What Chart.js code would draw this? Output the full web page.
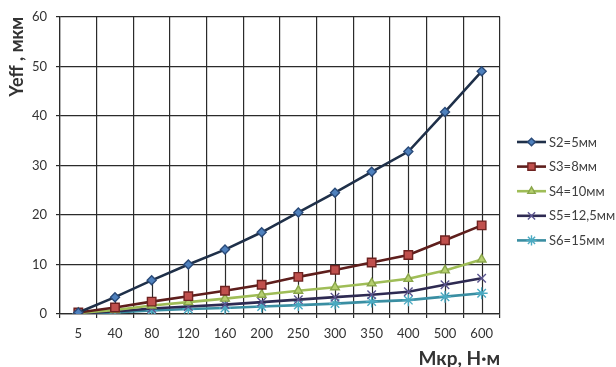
<!DOCTYPE html>
<html>
<head>
<meta charset="utf-8">
<script src="https://cdn.jsdelivr.net/npm/chart.js@4/dist/chart.umd.min.js"></script>
<style>
  html, body { margin: 0; padding: 0; background: #fff; }
  #wrap { width: 616px; height: 367px; position: relative; }
</style>
</head>
<body>
<div id="wrap"><canvas id="c"></canvas></div>
<script>
// Torque values (N·m) along the x axis
const torques = ['5', '40', '80', '120', '160', '200', '250', '300', '350', '400', '500', '600'];

// Yeff (µm) for each plate thickness
const s2 = [0.3, 3.4, 6.8, 10.0, 13.0, 16.5, 20.5, 24.5, 28.7, 32.8, 40.8, 49.0];
const s3 = [0.3, 1.3, 2.5, 3.6, 4.7, 5.9, 7.5, 8.9, 10.4, 11.9, 14.9, 17.9];
const s4 = [0.2, 0.8, 1.7, 2.4, 3.1, 3.9, 4.7, 5.4, 6.2, 7.1, 8.8, 11.0];
const s5 = [0.1, 0.5, 1.1, 1.5, 1.9, 2.4, 2.9, 3.4, 3.9, 4.5, 5.9, 7.2];
const s6 = [0.0, 0.3, 0.7, 1.0, 1.2, 1.5, 1.8, 2.1, 2.5, 2.8, 3.5, 4.2];

const seriesNames = ['S2=5мм', 'S3=8мм', 'S4=10мм', 'S5=12,5мм', 'S6=15мм'];

// y-axis ticks
const yMin = 0, yMax = 60, yStep = 10;

const FONT = 'Lato, "Noto Sans", sans-serif';

const styles = [
  { line: '#1f3049', fill: '#4f81bd', edge: '#2a4a78', shape: 'rectRot', r: 4.5 },
  { line: '#5e1e1c', fill: '#c0504d', edge: '#6e2220', shape: 'rect', r: 6 },
  { line: '#9fbd57', fill: '#b5cf6f', edge: '#8aa64a', shape: 'triangle', r: 5 },
  { line: '#2e2a52', fill: '#8a84b0', edge: '#5c5690', shape: 'crossRot', r: 6 },
  { line: '#3a8ea2', fill: '#6cc3d8', edge: '#4aaac2', shape: 'star', r: 6 }
];

const values = [s2, s3, s4, s5, s6];

const datasets = values.map((v, i) => ({
  label: seriesNames[i],
  data: v,
  borderColor: styles[i].line,
  borderWidth: 2.6,
  pointStyle: styles[i].shape,
  pointRadius: styles[i].r,
  pointBackgroundColor: styles[i].fill,
  pointBorderColor: styles[i].edge,
  pointBorderWidth: 1.4,
  tension: 0,
  fill: false
}));

// vertical drop lines from the top series down to the x axis
const dropLines = {
  id: 'dropLines',
  beforeDatasetsDraw(chart) {
    const { ctx, scales: { x, y } } = chart;
    ctx.save();
    ctx.strokeStyle = '#2b2b2b';
    ctx.lineWidth = 1.2;
    s2.forEach((v, i) => {
      const px = Math.round(x.getPixelForValue(i)) + 0.5;
      ctx.beginPath();
      ctx.moveTo(px, y.getPixelForValue(v));
      ctx.lineTo(px, y.getPixelForValue(0));
      ctx.stroke();
    });
    ctx.restore();
  }
};

// legend with line + marker samples, on the right
const sideLegend = {
  id: 'sideLegend',
  afterDraw(chart) {
    const { ctx } = chart;
    const x0 = 517, x1 = 546, top = 142, gap = 24.6;
    ctx.save();
    chart.data.datasets.forEach((ds, i) => {
      const yy = top + i * gap;
      ctx.strokeStyle = ds.borderColor;
      ctx.lineWidth = 2.6;
      ctx.beginPath();
      ctx.moveTo(x0, yy);
      ctx.lineTo(x1, yy);
      ctx.stroke();
      ctx.fillStyle = ds.pointBackgroundColor;
      ctx.strokeStyle = ds.pointBorderColor;
      ctx.lineWidth = 1.4;
      Chart.helpers.drawPoint(ctx, { pointStyle: ds.pointStyle, radius: ds.pointRadius * 0.85, borderWidth: 1.4 }, (x0 + x1) / 2, yy);
      ctx.fillStyle = '#404040';
      ctx.font = '13px ' + FONT;
      ctx.textBaseline = 'middle';
      ctx.textAlign = 'left';
      ctx.fillText(ds.label, x1 + 3, yy + 0.5);
    });
    ctx.restore();
  }
};

new Chart(document.getElementById('c'), {
  type: 'line',
  data: { labels: torques, datasets },
  plugins: [dropLines, sideLegend],
  options: {
    responsive: true,
    maintainAspectRatio: false,
    animation: false,
    layout: { padding: { top: 6, right: 116, left: 0, bottom: 0 } },
    plugins: {
      legend: { display: false },
      tooltip: { enabled: false }
    },
    scales: {
      x: {
        offset: true,
        grid: { offset: true, color: '#2b2b2b', lineWidth: 1.2, tickLength: 4, drawTicks: true },
        border: { color: '#2b2b2b', width: 1.2 },
        ticks: { color: '#333333', font: { size: 13, family: FONT }, padding: 8, maxRotation: 0, autoSkip: false },
        title: {
          display: true, text: 'Мкр, Н·м', align: 'end',
          color: '#333333', font: { size: 19, weight: 'bold', family: FONT },
          padding: { top: 0, bottom: -3 }
        },
        afterFit(scale) { scale.height = 53; }
      },
      y: {
        min: yMin, max: yMax,
        grid: { color: '#2b2b2b', lineWidth: 1.2, tickLength: 4 },
        border: { color: '#2b2b2b', width: 1.2 },
        ticks: { stepSize: yStep, color: '#333333', font: { size: 13, family: FONT }, padding: 9 },
        title: {
          display: true, text: 'Yeff , мкм', align: 'end',
          color: '#333333', font: { size: 18, weight: 'bold', family: FONT },
          padding: { top: 6, bottom: 0 }
        },
        afterFit(scale) { scale.width = 60; }
      }
    }
  }
});
</script>
</body>
</html>
